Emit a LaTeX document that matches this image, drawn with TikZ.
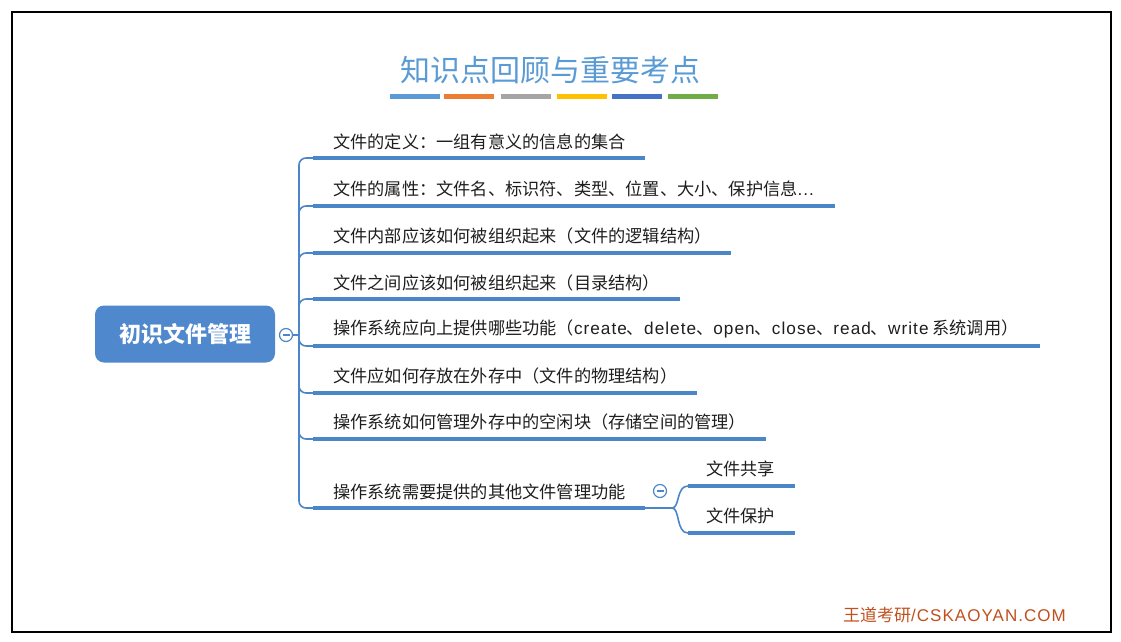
\documentclass[tikz,border=0pt]{standalone}
\usepackage{fontspec}
\setmainfont{Noto Sans CJK SC}
\newfontfamily\lat[LetterSpace=6]{Liberation Sans}
\definecolor{lineblue}{RGB}{74,134,200}
\definecolor{rootblue}{RGB}{80,136,205}
\definecolor{titleblue}{RGB}{91,155,213}
\definecolor{barblue}{RGB}{91,155,213}
\definecolor{barorange}{RGB}{237,125,49}
\definecolor{bargray}{RGB}{165,165,165}
\definecolor{baryellow}{RGB}{255,192,0}
\definecolor{bardark}{RGB}{68,114,196}
\definecolor{bargreen}{RGB}{112,173,71}
\definecolor{footcol}{RGB}{192,80,30}
\definecolor{textcol}{RGB}{30,30,30}
\begin{document}
\begin{tikzpicture}[x=1pt,y=-1pt,
  conn/.style={draw=lineblue, line width=1.6pt, rounded corners=7pt},
  uline/.style={draw=lineblue, line width=3.6pt},
  item/.style={anchor=west, inner sep=0pt, font=\fontsize{17.2}{19}\selectfont, text=textcol},
  bar/.style={line width=5pt},
  knob/.style={circle, draw=lineblue, line width=1.2pt, fill=white, minimum size=13pt, inner sep=0pt}]
\useasboundingbox (0,0) rectangle (1121,641);
\draw[line width=2pt] (12,12) rectangle (1111,632);
% title
\node[text=titleblue, font=\fontsize{30}{33}\selectfont, inner sep=0pt] (title) at (550,70) {知识点回顾与重要考点};
\draw[bar, barblue] (390,96) -- (440,96);
\draw[bar, barorange] (444,96) -- (494,96);
\draw[bar, bargray] (501,96) -- (551,96);
\draw[bar, baryellow] (557,96) -- (607,96);
\draw[bar, bardark] (612,96) -- (662,96);
\draw[bar, bargreen] (668,96) -- (718,96);
% root
\node[fill=rootblue, rounded corners=9pt, minimum width=180pt, minimum height=57pt, text=white, font=\fontsize{22}{25}\selectfont\bfseries] (root) at (185,334) {初识文件管理};
\node[knob] (c0) at (286,335) {};
\draw[lineblue, line width=1.3pt] ([xshift=-3.5pt]c0.center) -- ([xshift=3.5pt]c0.center);
\coordinate (hub) at (299,335);
\draw[conn] (c0.east) -- (hub);
% items
\node[item] (t1) at (333,142) {文件的定义：一组有意义的信息的集合};
\coordinate (s1) at (313,158); \coordinate (e1) at (645,158);
\node[item] (t2) at (333,189) {文件的属性：文件名、标识符、类型、位置、大小、保护信息{\lat...}};
\coordinate (s2) at (313,206); \coordinate (e2) at (835,206);
\node[item] (t3) at (333,236) {文件内部应该如何被组织起来（文件的逻辑结构）};
\coordinate (s3) at (313,253); \coordinate (e3) at (731,253);
\node[item] (t4) at (333,283) {文件之间应该如何被组织起来（目录结构）};
\coordinate (s4) at (313,299); \coordinate (e4) at (680,299);
\node[item] (t5) at (333,329) {操作系统应向上提供哪些功能（{\lat create}、{\lat delete}、{\lat open}、{\lat close}、{\lat read}、{\lat write} 系统调用）};
\coordinate (s5) at (313,346); \coordinate (e5) at (1040,346);
\node[item] (t6) at (333,376) {文件应如何存放在外存中（文件的物理结构）};
\coordinate (s6) at (313,393); \coordinate (e6) at (697,393);
\node[item] (t7) at (333,422) {操作系统如何管理外存中的空闲块（存储空间的管理）};
\coordinate (s7) at (313,439); \coordinate (e7) at (766,439);
\node[item] (t8) at (333,492) {操作系统需要提供的其他文件管理功能};
\coordinate (s8) at (313,508); \coordinate (e8) at (645,508);
\foreach \i in {1,...,8} {
  \draw[conn] (hub) |- (s\i);
  \draw[uline] (s\i) -- (e\i);
}
% sub branches
\node[knob] (c8) at (660,491) {};
\draw[lineblue, line width=1.3pt] ([xshift=-3.5pt]c8.center) -- ([xshift=3.5pt]c8.center);
\coordinate (j8) at (672,508);
\draw[lineblue, line width=1.6pt] (e8) -- (j8);
\node[item] (t9) at (706,469) {文件共享};
\coordinate (s9) at (688,486); \coordinate (e9) at (795,486);
\node[item] (t10) at (706,516) {文件保护};
\coordinate (s10) at (688,533); \coordinate (e10) at (795,533);
\draw[lineblue, line width=1.6pt] (j8) .. controls (680,508) and (676,486) .. (s9);
\draw[lineblue, line width=1.6pt] (j8) .. controls (680,508) and (676,533) .. (s10);
\draw[uline] (s9) -- (e9);
\draw[uline] (s10) -- (e10);
% footer
\node[anchor=west, inner sep=0pt, text=footcol, font=\fontsize{17}{19}\selectfont] (foot) at (843,615) {王道考研{\lat /CSKAOYAN.COM}};
\end{tikzpicture}
\end{document}
